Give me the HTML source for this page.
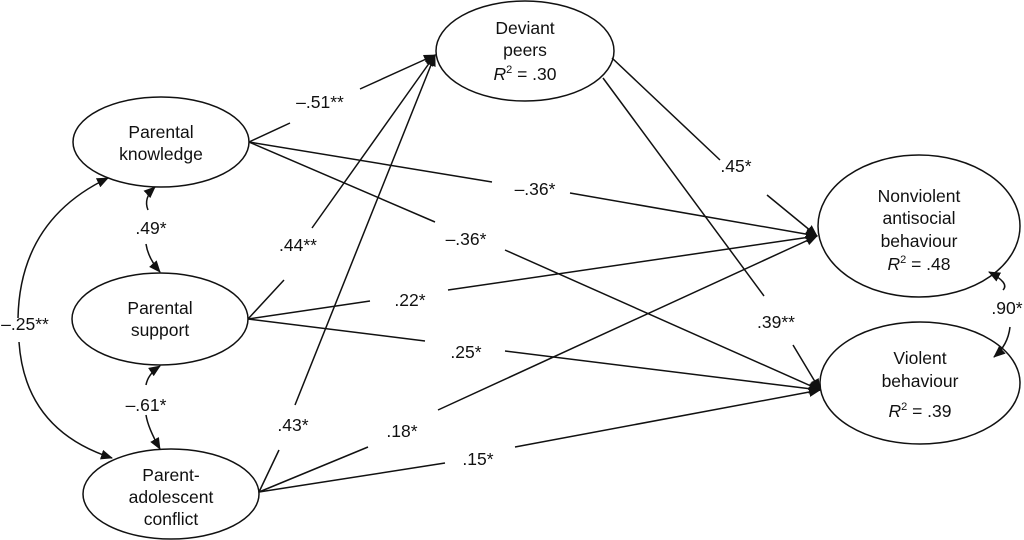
<!DOCTYPE html>
<html><head><meta charset="utf-8"><style>
html,body{margin:0;padding:0;background:#fff;}
svg{display:block;}
text{font-family:"Liberation Sans",sans-serif;font-size:17.5px;fill:#111;text-anchor:middle;}
</style></head><body>
<svg width="1024" height="540" viewBox="0 0 1024 540">
<defs>
<marker id="a" markerWidth="12" markerHeight="10" refX="11" refY="5" orient="auto" markerUnits="userSpaceOnUse">
<path d="M0,0 L12,5 L0,10 z" fill="#111"/></marker>
</defs>
<g fill="none" stroke="#111" stroke-width="1.5">
<ellipse cx="161" cy="142" rx="88" ry="45"/>
<ellipse cx="160" cy="319" rx="88" ry="46"/>
<ellipse cx="171" cy="494" rx="88" ry="45"/>
<ellipse cx="525" cy="51" rx="89" ry="50"/>
<ellipse cx="919" cy="226" rx="101" ry="71"/>
<ellipse cx="920" cy="383" rx="100" ry="61"/>
<!-- from PK -->
<path d="M249,142 L290,123 M360,89 L435,55" marker-end="url(#a)"/>
<path d="M249,142 L492,182 M570,193 L817,236" marker-end="url(#a)"/>
<path d="M249,142 L435,222 M505,250 L820,390" marker-end="url(#a)"/>
<!-- from PS -->
<path d="M248,319 L284,280 M312,228 L435,55" marker-end="url(#a)"/>
<path d="M248,319 L370,301 M448,290 L817,236" marker-end="url(#a)"/>
<path d="M248,319 L425,341 M505,351 L820,390" marker-end="url(#a)"/>
<!-- from PC -->
<path d="M259,492 L279,450 M295,405 L435,55" marker-end="url(#a)"/>
<path d="M259,492 L368,447 M438,410 L817,236" marker-end="url(#a)"/>
<path d="M259,492 L445,463 M515,447 L820,390" marker-end="url(#a)"/>
<!-- from DP -->
<path d="M612,58 L720,160 M767,195 L817,236" marker-end="url(#a)"/>
<path d="M603,78 L764,296 M793,345 L820,390" marker-end="url(#a)"/>
<!-- covariances -->
<path d="M148,210 Q143,198 155,187" marker-end="url(#a)"/>
<path d="M146,244 Q148,258 160,272" marker-end="url(#a)"/>
<path d="M146,385 Q148,374 160,366" marker-end="url(#a)"/>
<path d="M146,415 Q148,428 160,449" marker-end="url(#a)"/>
<path d="M18,318 Q20,220 108,178" marker-end="url(#a)"/>
<path d="M19,342 Q25,430 112,458" marker-end="url(#a)"/>
<path d="M1003,290 Q1010,283 989,272" marker-end="url(#a)"/>
<path d="M1010,327 Q1008,345 994,357" marker-end="url(#a)"/>
</g>
<text x="161" y="138">Parental</text><text x="161" y="160">knowledge</text>
<text x="160" y="314">Parental</text><text x="160" y="336">support</text>
<text x="171" y="481">Parent-</text><text x="171" y="503">adolescent</text><text x="171" y="525">conflict</text>
<text x="525" y="34">Deviant</text><text x="525" y="56">peers</text><text x="525" y="80"><tspan font-style="italic">R</tspan><tspan font-size="11" dy="-7">2</tspan><tspan dy="7"> = .30</tspan></text>
<text x="919" y="202">Nonviolent</text><text x="919" y="224">antisocial</text><text x="919" y="247">behaviour</text><text x="919" y="270"><tspan font-style="italic">R</tspan><tspan font-size="11" dy="-7">2</tspan><tspan dy="7"> = .48</tspan></text>
<text x="920" y="364">Violent</text><text x="920" y="387">behaviour</text><text x="920" y="417"><tspan font-style="italic">R</tspan><tspan font-size="11" dy="-7">2</tspan><tspan dy="7"> = .39</tspan></text>
<text x="320" y="108">–.51**</text>
<text x="535" y="195">–.36*</text>
<text x="466" y="245">–.36*</text>
<text x="298" y="251">.44**</text>
<text x="410" y="306">.22*</text>
<text x="466" y="358">.25*</text>
<text x="293" y="431">.43*</text>
<text x="402" y="437">.18*</text>
<text x="478" y="465">.15*</text>
<text x="736" y="172">.45*</text>
<text x="776" y="328">.39**</text>
<text x="151" y="234">.49*</text>
<text x="146" y="411">–.61*</text>
<text x="25" y="330">–.25**</text>
<text x="1007" y="314">.90*</text>
</svg>
</body></html>
